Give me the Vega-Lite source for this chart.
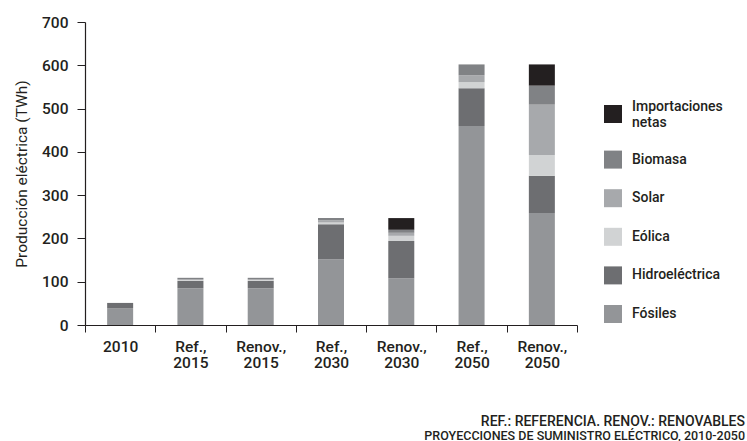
{
  "$schema": "https://vega.github.io/schema/vega-lite/v6.json",
  "width": 492,
  "height": 303,
  "autosize": {"type": "none"},
  "padding": {"left": 85, "top": 22, "right": 170, "bottom": 116},
  "background": "white",
  "config": {
    "font": "Roboto",
    "view": {"stroke": null},
    "axis": {"labelColor": "#231f20", "titleColor": "#231f20", "domainColor": "#231f20", "tickColor": "#231f20", "grid": false}
  },
  "title": {
    "text": "REF.: REFERENCIA. RENOV.: RENOVABLES",
    "subtitle": "PROYECCIONES DE SUMINISTRO ELÉCTRICO, 2010-2050",
    "orient": "bottom",
    "anchor": "end",
    "frame": "group",
    "dx": 168,
    "offset": 44,
    "fontSize": 14,
    "fontWeight": 500,
    "color": "#231f20",
    "subtitleFontSize": 12.5,
    "subtitleFontWeight": 500,
    "subtitleColor": "#231f20",
    "subtitlePadding": 1
  },
  "data": {
    "values": [
      {"cat": "2010", "src": "Fósiles", "v": 39, "k": 1},
      {"cat": "2010", "src": "Hidroeléctrica", "v": 12, "k": 2},
      {"cat": "Ref., 2015", "src": "Fósiles", "v": 85, "k": 1},
      {"cat": "Ref., 2015", "src": "Hidroeléctrica", "v": 17, "k": 2},
      {"cat": "Ref., 2015", "src": "Eólica", "v": 2, "k": 3},
      {"cat": "Ref., 2015", "src": "Solar", "v": 2, "k": 4},
      {"cat": "Ref., 2015", "src": "Biomasa", "v": 3, "k": 5},
      {"cat": "Renov., 2015", "src": "Fósiles", "v": 85, "k": 1},
      {"cat": "Renov., 2015", "src": "Hidroeléctrica", "v": 17, "k": 2},
      {"cat": "Renov., 2015", "src": "Eólica", "v": 2, "k": 3},
      {"cat": "Renov., 2015", "src": "Solar", "v": 2, "k": 4},
      {"cat": "Renov., 2015", "src": "Biomasa", "v": 3, "k": 5},
      {"cat": "Ref., 2030", "src": "Fósiles", "v": 152, "k": 1},
      {"cat": "Ref., 2030", "src": "Hidroeléctrica", "v": 81, "k": 2},
      {"cat": "Ref., 2030", "src": "Eólica", "v": 4, "k": 3},
      {"cat": "Ref., 2030", "src": "Solar", "v": 5, "k": 4},
      {"cat": "Ref., 2030", "src": "Biomasa", "v": 5, "k": 5},
      {"cat": "Renov., 2030", "src": "Fósiles", "v": 108, "k": 1},
      {"cat": "Renov., 2030", "src": "Hidroeléctrica", "v": 86, "k": 2},
      {"cat": "Renov., 2030", "src": "Eólica", "v": 12, "k": 3},
      {"cat": "Renov., 2030", "src": "Solar", "v": 7, "k": 4},
      {"cat": "Renov., 2030", "src": "Biomasa", "v": 7, "k": 5},
      {"cat": "Renov., 2030", "src": "Importaciones netas", "v": 27, "k": 6},
      {"cat": "Ref., 2050", "src": "Fósiles", "v": 460, "k": 1},
      {"cat": "Ref., 2050", "src": "Hidroeléctrica", "v": 87, "k": 2},
      {"cat": "Ref., 2050", "src": "Eólica", "v": 14, "k": 3},
      {"cat": "Ref., 2050", "src": "Solar", "v": 16, "k": 4},
      {"cat": "Ref., 2050", "src": "Biomasa", "v": 25, "k": 5},
      {"cat": "Renov., 2050", "src": "Fósiles", "v": 259, "k": 1},
      {"cat": "Renov., 2050", "src": "Hidroeléctrica", "v": 86, "k": 2},
      {"cat": "Renov., 2050", "src": "Eólica", "v": 48, "k": 3},
      {"cat": "Renov., 2050", "src": "Solar", "v": 116, "k": 4},
      {"cat": "Renov., 2050", "src": "Biomasa", "v": 44, "k": 5},
      {"cat": "Renov., 2050", "src": "Importaciones netas", "v": 49, "k": 6}
    ]
  },
  "mark": {"type": "bar", "width": {"band": 0.37}},
  "encoding": {
    "x": {
      "field": "cat",
      "type": "nominal",
      "sort": null,
      "scale": {"paddingInner": 0, "paddingOuter": 0},
      "axis": {
        "title": null,
        "labelAngle": 0,
        "tickBand": "extent",
        "tickSize": 7,
        "labelPadding": 7,
        "labelFontSize": 15.5,
        "labelFontWeight": 500,
        "labelLineHeight": 16,
        "labelExpr": "split(datum.label, ' ')",
        "domainWidth": 1.2
      }
    },
    "y": {
      "field": "v",
      "type": "quantitative",
      "stack": "zero",
      "scale": {"domain": [0, 700], "nice": false},
      "axis": {
        "title": "Producción eléctrica (TWh)",
        "titleFontSize": 15.5,
        "titleFontWeight": "normal",
        "titlePadding": 12,
        "values": [0, 100, 200, 300, 400, 500, 600, 700],
        "tickSize": 8,
        "labelPadding": 9,
        "labelFontSize": 15.5,
        "labelFontWeight": 500,
        "domainWidth": 1.2
      }
    },
    "color": {
      "field": "src",
      "type": "nominal",
      "scale": {
        "domain": ["Importaciones netas", "Biomasa", "Solar", "Eólica", "Hidroeléctrica", "Fósiles"],
        "range": ["#231f20", "#808285", "#a7a9ac", "#d1d3d4", "#6d6e71", "#939598"]
      },
      "legend": {
        "title": null,
        "orient": "none",
        "legendX": 519,
        "legendY": 83,
        "symbolType": "square",
        "symbolSize": 324,
        "symbolStrokeWidth": 0,
        "symbolOpacity": 1,
        "labelFontSize": 14,
        "labelFontWeight": 500,
        "labelColor": "#231f20",
        "labelOffset": 10,
        "labelLineHeight": 14,
        "rowPadding": 20.6,
        "labelExpr": "datum.label == 'Importaciones netas' ? ['Importaciones', 'netas'] : datum.label",
        "encode": {
          "labels": {
            "update": {
              "dy": {"signal": "datum.value === 'Importaciones netas' ? -7 : 0"}
            }
          }
        }
      }
    },
    "order": {"field": "k", "type": "quantitative", "sort": "ascending"}
  }
}
